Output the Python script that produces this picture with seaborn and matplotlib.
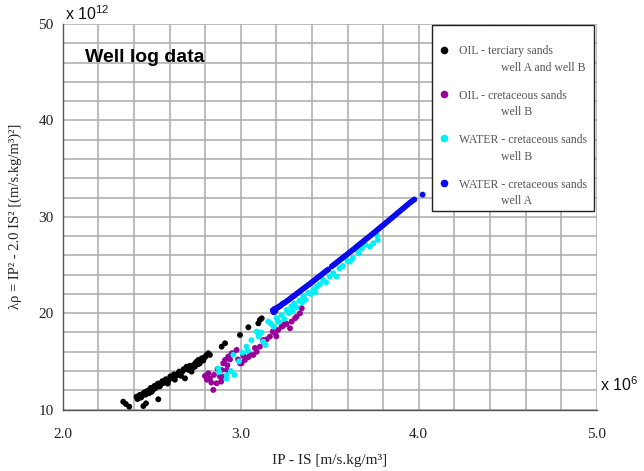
import numpy as np
import pandas as pd
import matplotlib
matplotlib.use("Agg")
import matplotlib.pyplot as plt
from matplotlib.ticker import MultipleLocator, FuncFormatter
from matplotlib.lines import Line2D
import seaborn as sns

# ---- well log data: impedance IP-IS (x 1e6) vs lambda-rho (x 1e12) ----
oil_tert_x = [2.340, 2.355, 2.374, 2.415, 2.425, 2.434, 2.445, 2.453, 2.453, 2.468,
              2.472, 2.490, 2.500, 2.510, 2.527, 2.537, 2.545, 2.555, 2.574, 2.590,
              2.600, 2.612, 2.630, 2.640, 2.649, 2.665, 2.675, 2.687, 2.696, 2.710,
              2.724, 2.733, 2.743, 2.752, 2.762, 2.770, 2.781, 2.795, 2.808, 2.818,
              2.827, 2.893, 2.912, 2.996, 3.043, 3.099, 3.108, 3.118,
              2.420, 2.430, 2.440, 2.460, 2.465, 2.480, 2.485, 2.495, 2.505, 2.515,
              2.520, 2.535, 2.550, 2.560, 2.565, 2.580, 2.595, 2.605, 2.620, 2.625,
              2.655, 2.660, 2.680, 2.700, 2.715, 2.730, 2.745, 2.760, 2.790, 2.800]
oil_tert_y = [10.82, 10.58, 10.30, 11.34, 11.17, 11.52, 11.40, 11.69, 10.37, 10.65,
              11.90, 12.10, 11.85, 12.30, 12.55, 11.07, 12.40, 12.80, 12.90, 12.70,
              13.20, 13.35, 13.10, 13.55, 13.76, 13.50, 14.00, 13.24, 14.45, 14.10,
              13.94, 14.60, 14.46, 14.97, 15.15, 14.80, 15.32, 15.40, 15.66, 15.84,
              15.67, 16.53, 16.88, 17.74, 18.54, 18.95, 19.30, 19.47,
              11.10, 11.45, 11.25, 11.80, 11.55, 11.95, 11.70, 12.25, 12.05, 12.45,
              12.20, 12.70, 12.60, 12.95, 12.75, 13.15, 13.05, 13.45, 13.40, 13.65,
              13.95, 13.60, 14.20, 14.20, 14.55, 14.35, 14.80, 14.70, 15.10, 15.45]

oil_cret_x = [2.799, 2.818, 2.827, 2.846, 2.865, 2.884, 2.893, 2.902, 2.912, 2.930,
              2.949, 2.977, 3.005, 3.024, 3.043, 3.071, 3.090, 3.108, 3.127, 3.146,
              3.164, 3.193, 3.211, 3.239, 3.258, 3.277, 3.286, 3.314, 3.333, 3.343,
              3.305, 3.249, 3.230, 3.127, 3.053, 2.996, 2.959, 2.921, 2.903,
              2.810, 2.835, 2.850, 2.870, 2.890, 2.925, 2.940, 2.985, 3.015, 3.080,
              3.180, 3.200]
oil_cret_y = [13.49, 13.77, 13.25, 12.04, 12.73, 13.42, 14.11, 14.80, 15.15, 15.49,
              15.84, 16.19, 14.80, 15.15, 15.43, 15.67, 16.01, 16.53, 17.05, 17.29,
              17.57, 17.92, 18.26, 18.68, 18.88, 18.43, 19.13, 19.64, 19.99, 20.51,
              19.47, 18.95, 18.60, 17.22, 15.66, 14.80, 15.84, 14.11, 13.42,
              13.10, 12.80, 13.60, 14.20, 12.90, 14.60, 15.20, 15.20, 15.60, 16.40,
              18.10, 17.60]

water_b_x = [2.874, 2.880, 2.921, 2.920, 2.945, 2.958, 2.965, 2.990, 3.010, 3.033,
             3.040, 3.060, 3.090, 3.100, 3.115, 3.127, 3.140, 3.155, 3.170, 3.185,
             3.202, 3.215, 3.230, 3.245, 3.258, 3.270, 3.285, 3.290, 3.300, 3.315,
             3.330, 3.345, 3.352, 3.365, 3.380, 3.395, 3.408, 3.420, 3.427, 3.445,
             3.464, 3.480, 3.500, 3.520, 3.540, 3.555, 3.575, 3.600, 3.614, 3.630,
             3.651, 3.665, 3.680, 3.700, 3.726, 3.745, 3.764, 3.770]
water_b_y = [14.28, 13.90, 13.59, 13.20, 14.00, 15.67, 13.60, 15.00, 15.90, 16.53,
             16.10, 17.20, 18.09, 17.60, 18.00, 17.05, 16.70, 19.13, 18.90, 18.60,
             19.47, 19.10, 19.80, 19.40, 20.33, 20.00, 20.70, 20.20, 21.00, 20.60,
             21.30, 21.10, 21.72, 21.40, 22.10, 22.00, 22.41, 22.20, 22.76, 23.00,
             23.45, 23.20, 23.80, 24.14, 23.79, 24.66, 24.90, 25.40, 25.35, 25.70,
             26.56, 26.20, 26.73, 27.10, 26.90, 27.25, 28.11, 27.60]

water_a_x = [3.180, 3.185, 3.190, 3.196, 3.202, 3.210, 3.218, 3.226, 3.234, 3.242,
             3.250, 3.259, 3.268, 3.277, 3.286, 3.295, 3.304, 3.313, 3.322, 3.331,
             3.340, 3.350, 3.360, 3.370, 3.381, 3.392, 3.403, 3.414, 3.425, 3.436,
             3.447, 3.458, 3.469, 3.480, 3.491, 3.512, 3.523, 3.534, 3.545, 3.556,
             3.567, 3.578, 3.589, 3.600, 3.611, 3.622, 3.633, 3.644, 3.655, 3.666,
             3.677, 3.688, 3.699, 3.710, 3.721, 3.732, 3.743, 3.754, 3.765, 3.776,
             3.787, 3.798, 3.809, 3.820, 3.831, 3.842, 3.853, 3.864, 3.875, 3.886,
             3.897, 3.908, 3.919, 3.930, 3.941, 3.952, 3.963, 3.975, 4.022]
water_a_y = [20.30, 20.10, 20.45, 20.25, 20.55, 20.62, 20.72, 20.80, 20.95, 21.05,
             21.12, 21.25, 21.36, 21.50, 21.62, 21.75, 21.86, 22.00, 22.12, 22.25,
             22.38, 22.52, 22.66, 22.80, 22.95, 23.10, 23.26, 23.42, 23.58, 23.74,
             23.90, 24.06, 24.22, 24.38, 24.52, 24.86, 25.02, 25.18, 25.34, 25.50,
             25.66, 25.82, 25.98, 26.14, 26.30, 26.46, 26.62, 26.79, 26.96, 27.12,
             27.28, 27.45, 27.61, 27.77, 27.93, 28.10, 28.27, 28.43, 28.60, 28.77,
             28.94, 29.10, 29.27, 29.44, 29.61, 29.78, 29.95, 30.12, 30.29, 30.46,
             30.63, 30.80, 30.97, 31.14, 31.31, 31.48, 31.63, 31.80, 32.30]

group_labels = [
    "OIL - terciary sands\n              well A and well B",
    "OIL - cretaceous sands\n              well B",
    "WATER - cretaceous sands \n              well B",
    "WATER - cretaceous sands \n              well A",
]
group_colors = ["#000000", "#990099", "#00f0f8", "#0a0aee"]

frames = []
for lab, xs, ys in zip(group_labels,
                       [oil_tert_x, oil_cret_x, water_b_x, water_a_x],
                       [oil_tert_y, oil_cret_y, water_b_y, water_a_y]):
    frames.append(pd.DataFrame({"ip_is": xs, "lambda_rho": ys, "group": lab}))
df = pd.concat(frames, ignore_index=True)

sns.set_theme(style="white")
plt.rcParams["font.family"] = ["Liberation Serif", "DejaVu Serif"]
plt.rcParams["mathtext.fontset"] = "custom"
plt.rcParams["mathtext.rm"] = "Liberation Sans"

fig = plt.figure(figsize=(6.44, 4.71), dpi=100)
ax = fig.add_axes([62.7 / 644, 1 - 409.6 / 471, 534 / 644, 385.6 / 471])

sns.scatterplot(data=df, x="ip_is", y="lambda_rho", hue="group",
                hue_order=group_labels, palette=group_colors,
                s=18, linewidth=0, edgecolor="none", legend=False, ax=ax,
                zorder=3)

ax.set_xlim(2.0, 5.0)
ax.set_ylim(10, 50)

# ticks: grid every 0.2 / 2 units, small ticks every 0.1 / 1 unit
ax.xaxis.set_major_locator(MultipleLocator(0.2))
ax.xaxis.set_minor_locator(MultipleLocator(0.1))
ax.yaxis.set_major_locator(MultipleLocator(2))
ax.yaxis.set_minor_locator(MultipleLocator(1))
ax.xaxis.set_major_formatter(FuncFormatter(
    lambda v, p: f"{v:.1f}" if abs(v - round(v)) < 1e-6 else ""))
ax.yaxis.set_major_formatter(FuncFormatter(
    lambda v, p: f"{int(round(v))}" if abs(v / 10 - round(v / 10)) < 1e-6 else ""))

ax.grid(True, which="major", color="#ababab", linewidth=1.1, zorder=0)
ax.set_axisbelow(True)
for side in ["top", "right"]:
    ax.spines[side].set_visible(False)
for side in ["left", "bottom"]:
    ax.spines[side].set_color("#555555")
    ax.spines[side].set_linewidth(1.0)

ax.tick_params(axis="both", which="both", direction="inout", colors="#666666",
               labelcolor="#222222", labelsize=11)
ax.tick_params(axis="both", which="major", length=5, width=0.8)
ax.tick_params(axis="both", which="minor", length=3, width=0.8)
ax.tick_params(axis="x", pad=11)
ax.tick_params(axis="y", pad=4)

ax.set_xlabel("IP - IS [m/s.kg/m³]", fontsize=11, color="#222222", labelpad=9)
ax.set_ylabel("λρ = IP² - 2.0 IS² [(m/s.kg/m³)²]", fontsize=10.5,
              color="#222222", labelpad=12)

# scale factors and title
fig.text(65 / 644, 1 - 20 / 471, "x 10$^{12}$", family="Liberation Sans",
         fontsize=11.5, va="baseline", ha="left", color="#111111")
fig.text(600 / 644, 1 - 391 / 471, "x 10$^{6}$", family="Liberation Sans",
         fontsize=11.5, va="baseline", ha="left", color="#111111")
fig.text(85 / 644, 1 - 62 / 471, "Well log data",
         family="Liberation Sans", fontweight="bold",
         fontsize=14, va="baseline", ha="left", color="#000000")

handles = [Line2D([], [], linestyle="none", marker="o", markersize=5.5,
                  markerfacecolor=c, markeredgecolor="none") for c in group_colors]
leg = ax.legend(handles, group_labels, loc="upper right",
                bbox_to_anchor=(594 / 644, 1 - 25 / 471),
                bbox_transform=fig.transFigure, borderaxespad=0,
                frameon=True, fancybox=False, framealpha=1,
                edgecolor="#222222", facecolor="white",
                prop={"family": "Liberation Serif", "size": 8.5},
                labelcolor="#555555", handlelength=1.4, handletextpad=0.6,
                borderpad=0.3, labelspacing=1.35,
                title=" ", title_fontsize=1)
leg.get_frame().set_linewidth(1.0)
leg.set_zorder(5)
for t in leg.get_texts():
    t.set_linespacing(1.5)
# put each marker beside the first line of its label
for col in leg._legend_handle_box.get_children():
    for item in col.get_children():
        item.align = "top"

fig.savefig("out.png", dpi=100, facecolor="white")
